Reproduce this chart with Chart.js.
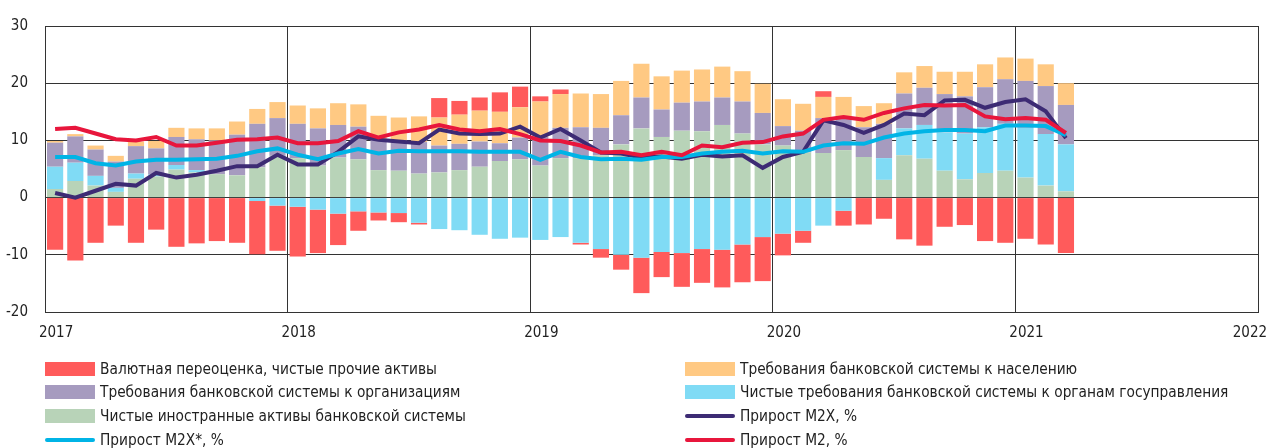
<!DOCTYPE html>
<html lang="ru">
<head>
<meta charset="utf-8">
<title>Денежная масса</title>
<script src="https://cdn.jsdelivr.net/npm/chart.js@4.4.1/dist/chart.umd.min.js"></script>
<style>
  html, body { margin: 0; padding: 0; background: #fff; }
  #wrap { position: relative; width: 1280px; height: 448px; overflow: hidden; }
  #legend {
    position: absolute; left: 45px; top: 357px;
    display: grid; grid-template-columns: 640px 560px; grid-auto-rows: 23.6px;
    font-family: "Liberation Sans Narrow", "DejaVu Sans Condensed", "Roboto Condensed", Roboto, sans-serif;
    font-size: 15px; color: #222;
  }
  #legend .item { display: flex; align-items: center; white-space: nowrap; }
  #legend .sw { width: 50px; height: 14px; margin-right: 5px; flex: none; }
  #legend .sw.line { height: 4px; border-radius: 2px; }
  #legend .txt { display: inline-block; transform: scaleX(1.02); transform-origin: 0 50%; }
</style>
</head>
<body>
<div id="wrap">
  <canvas id="chart" width="1280" height="448"></canvas>
  <div id="legend"></div>
</div>
<script>
// months Jan 2017 .. Mar 2021
const months = [
  '01.2017','02.2017','03.2017','04.2017','05.2017','06.2017','07.2017','08.2017','09.2017','10.2017','11.2017','12.2017',
  '01.2018','02.2018','03.2018','04.2018','05.2018','06.2018','07.2018','08.2018','09.2018','10.2018','11.2018','12.2018',
  '01.2019','02.2019','03.2019','04.2019','05.2019','06.2019','07.2019','08.2019','09.2019','10.2019','11.2019','12.2019',
  '01.2020','02.2020','03.2020','04.2020','05.2020','06.2020','07.2020','08.2020','09.2020','10.2020','11.2020','12.2020',
  '01.2021','02.2021','03.2021'
];
const yearLabels = ['2017', '2018', '2019', '2020', '2021', '2022'];

// stacked components, p.p.
const fxOther = [
  -9.1, -11.0, -7.9, -4.9, -7.9, -5.6, -8.6, -8.0, -7.6, -7.9, -9.3, -7.9,
  -8.7, -7.6, -5.5, -3.4, -1.4, -1.6, -0.3, 3.4, 2.4, 2.3, 3.4, 3.6,
  0.9, 0.8, -0.3, -1.5, -2.6, -6.2, -4.4, -5.9, -5.9, -6.6, -6.6, -7.7,
  -3.8, -2.1, 1.0, -2.6, -4.7, -3.7, -7.3, -8.4, -5.1, -4.8, -7.6, -7.9,
  -7.2, -8.2, -9.7
];
const households = [
  0.3, 0.4, 0.7, 1.0, 0.8, 1.3, 1.6, 1.9, 2.1, 2.3, 2.6, 2.8,
  3.2, 3.5, 3.8, 3.9, 4.2, 4.1, 4.5, 4.9, 5.1, 5.4, 5.5, 5.3,
  6.2, 5.9, 5.9, 5.9, 6.0, 5.9, 5.8, 5.6, 5.6, 5.4, 5.3, 5.1,
  4.7, 4.7, 3.7, 3.5, 3.7, 3.6, 3.7, 3.8, 3.9, 4.3, 4.0, 3.8,
  3.9, 3.8, 3.8
];
const organizations = [
  4.2, 4.6, 4.6, 4.6, 4.8, 4.6, 4.9, 5.4, 5.9, 7.1, 7.6, 6.6,
  6.0, 6.5, 5.7, 5.7, 5.3, 5.2, 5.5, 4.7, 4.6, 4.4, 3.1, 3.8,
  5.0, 5.3, 5.4, 4.8, 5.1, 5.4, 4.8, 4.9, 5.2, 4.8, 5.6, 5.5,
  3.4, 3.8, 6.1, 5.8, 5.2, 6.0, 6.1, 6.5, 6.7, 6.5, 7.0, 7.8,
  8.2, 8.4, 6.9
];
const government = [
  3.9, 3.2, 1.7, 0.7, 0.9, 0.3, 0.8, 0.4, 0.0, 0.0, -0.6, -1.4,
  -1.6, -2.1, -2.8, -2.4, -2.6, -2.7, -4.4, -5.5, -5.7, -6.5, -7.2, -7.0,
  -7.4, -6.9, -7.9, -9.0, -10.0, -10.5, -9.5, -9.7, -9.0, -9.1, -8.2, -6.9,
  -6.3, -5.8, -4.9, -2.3, 0.0, 3.8, 4.7, 5.9, 6.7, 8.0, 8.0, 8.2,
  8.7, 9.0, 8.2
];
const foreignAssets = [
  1.5, 2.9, 2.1, 1.0, 3.3, 3.7, 4.9, 4.4, 4.1, 3.9, 5.3, 7.3,
  6.9, 5.6, 7.0, 6.7, 4.8, 4.7, 4.2, 4.4, 4.8, 5.4, 6.4, 6.7,
  5.6, 6.9, 6.9, 7.4, 9.3, 12.1, 10.6, 11.7, 11.6, 12.7, 11.2, 9.3,
  9.1, 7.9, 7.8, 8.3, 7.1, 3.1, 7.4, 6.8, 4.7, 3.2, 4.3, 4.7,
  3.5, 2.1, 1.1
];

// growth lines, % y/y
const m2x = [
  0.8, 0.0, 1.2, 2.4, 2.1, 4.3, 3.5, 4.0, 4.7, 5.5, 5.5, 7.5,
  5.8, 5.8, 8.0, 10.7, 10.1, 9.8, 9.5, 11.9, 11.2, 11.1, 11.2, 12.4,
  10.5, 12.0, 10.0, 7.9, 7.7, 7.0, 7.2, 6.8, 7.5, 7.2, 7.4, 5.2,
  7.1, 8.0, 13.5, 12.7, 11.3, 12.7, 14.7, 14.4, 17.0, 17.1, 15.7, 16.7,
  17.2, 15.1, 10.4
];
const m2xStar = [
  7.1, 7.1, 6.0, 5.6, 6.3, 6.6, 6.6, 6.7, 6.8, 7.3, 8.1, 8.6,
  7.5, 6.7, 7.7, 8.5, 7.7, 8.2, 8.1, 8.1, 8.1, 8.0, 8.0, 8.0,
  6.6, 8.0, 7.1, 6.7, 6.8, 6.6, 7.1, 7.1, 7.7, 8.0, 8.2, 7.7,
  8.1, 8.0, 9.1, 9.5, 9.4, 10.5, 11.2, 11.6, 11.8, 11.8, 11.6, 12.6,
  12.6, 12.5, 10.9
];
const m2 = [
  12.0, 12.2, 11.2, 10.2, 10.0, 10.6, 9.1, 9.1, 9.6, 10.1, 10.2, 10.5,
  9.5, 9.5, 9.9, 11.6, 10.5, 11.4, 11.9, 12.7, 11.9, 11.6, 12.0, 11.1,
  10.0, 9.9, 9.1, 7.9, 8.0, 7.4, 8.0, 7.4, 9.1, 8.8, 9.6, 9.7,
  10.7, 11.2, 13.6, 14.1, 13.6, 14.8, 15.6, 16.2, 16.1, 16.2, 14.2, 13.7,
  13.9, 13.6, 11.3
];

const fontFamily = '"Liberation Sans Narrow", "DejaVu Sans Condensed", "Roboto Condensed", Roboto, sans-serif';
const gridColor = '#333';

// bars sit in the middle of their month on a linear month axis
const pts = arr => arr.map((v, i) => ({ x: i + 0.5, y: v }));

function barSet(label, data, color, order) {
  return {
    type: 'bar', label: label, data: pts(data), backgroundColor: color,
    borderWidth: 0, barPercentage: 0.8, categoryPercentage: 1.0, order: order
  };
}
function lineSet(label, data, color, order, stack) {
  return {
    type: 'line', label: label, data: pts(data), borderColor: color, backgroundColor: color,
    borderWidth: 4, pointRadius: 0, tension: 0, fill: false, order: order, stack: stack
  };
}

// listed in legend order; "order" gives stacking (green at the bottom) and draws lines on top
const datasets = [
  barSet('Валютная переоценка, чистые прочие активы', fxOther, '#ff5b5b', 7),
  barSet('Требования банковской системы к населению', households, '#ffc983', 6),
  barSet('Требования банковской системы к организациям', organizations, '#a69bbf', 5),
  barSet('Чистые требования банковской системы к органам госуправления', government, '#80dbf5', 4),
  barSet('Чистые иностранные активы банковской системы', foreignAssets, '#b8d3b8', 3),
  lineSet('Прирост M2X, %', m2x, '#3d2b74', 2, 'm2x'),
  lineSet('Прирост M2X*, %', m2xStar, '#00b4e6', 1, 'm2xs'),
  lineSet('Прирост M2, %', m2, '#e8163c', 0, 'm2')
];

const htmlLegend = {
  id: 'htmlLegend',
  afterUpdate(chart) {
    const box = document.getElementById('legend');
    box.innerHTML = '';
    chart.data.datasets.forEach(ds => {
      const item = document.createElement('div');
      item.className = 'item';
      const sw = document.createElement('span');
      sw.className = ds.type === 'line' ? 'sw line' : 'sw';
      sw.style.background = ds.type === 'line' ? ds.borderColor : ds.backgroundColor;
      const txt = document.createElement('span');
      txt.className = 'txt';
      txt.textContent = ds.label;
      item.appendChild(sw);
      item.appendChild(txt);
      box.appendChild(item);
    });
  }
};

new Chart(document.getElementById('chart'), {
  data: { datasets: datasets },
  plugins: [htmlLegend],
  options: {
    responsive: false,
    animation: false,
    layout: { padding: { top: 15, right: 22, bottom: 0, left: 0 } },
    plugins: { legend: { display: false }, tooltip: { enabled: false } },
    scales: {
      x: {
        type: 'linear', min: 0, max: 60, stacked: true, offset: false,
        grid: { color: gridColor, lineWidth: 1, drawTicks: false, offset: false },
        border: { color: gridColor },
        ticks: { display: false },
        afterBuildTicks: s => { s.ticks = yearLabels.map((y, k) => ({ value: k * 12 })); },
        afterFit: s => { s.height = 0; s.paddingLeft = 0; s.paddingRight = 0; }
      },
      xYears: {
        type: 'linear', position: 'bottom', min: 0, max: 60, offset: false,
        grid: { display: false, drawTicks: false, offset: false },
        border: { display: false },
        ticks: {
          autoSkip: false, maxRotation: 0, padding: 12, color: '#222',
          font: { family: fontFamily, size: 15 },
          callback: (v, i) => yearLabels[i]
        },
        afterBuildTicks: s => { s.ticks = yearLabels.map((y, k) => ({ value: Math.min(k * 12 + 0.55, 59.6) })); },
        afterFit: s => { s.height = 136; s.paddingLeft = 0; s.paddingRight = 0; }
      },
      y: {
        min: -20, max: 30, stacked: true,
        grid: { color: gridColor, lineWidth: 1, drawTicks: false },
        border: { color: gridColor },
        ticks: { stepSize: 10, padding: 17, color: '#222', font: { family: fontFamily, size: 15 } },
        afterFit: s => { s.width = 45; }
      }
    }
  }
});
</script>
</body>
</html>
